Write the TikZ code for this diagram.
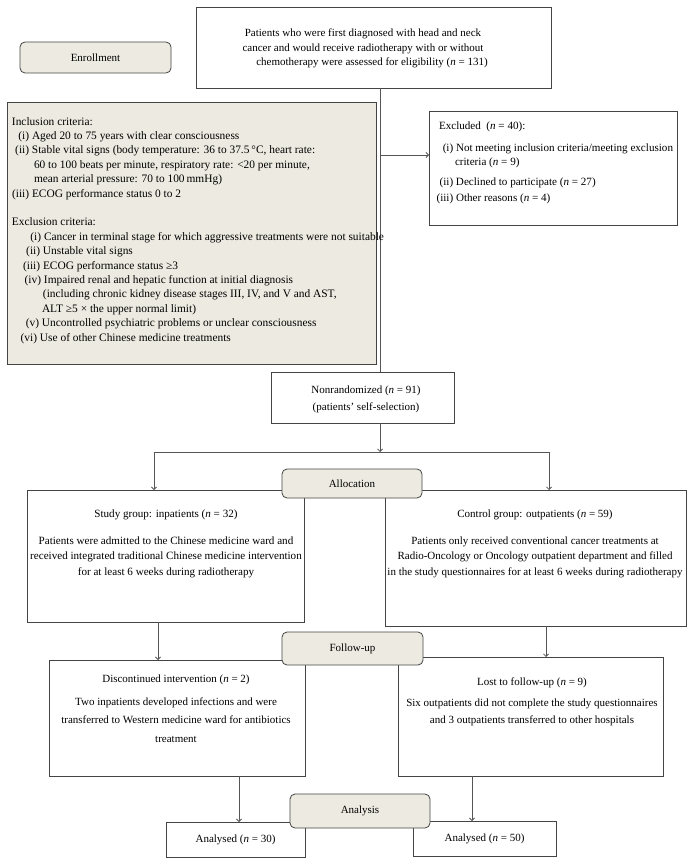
\documentclass[tikz,border=0pt]{standalone}
\usepackage{fontspec}
\setmainfont{Liberation Serif}
\usetikzlibrary{arrows.meta,calc}
\definecolor{beige}{HTML}{EDEBE1}
\definecolor{edgec}{HTML}{444444}
\definecolor{linec}{HTML}{555555}
\newcommand\lbl[2]{\hspace*{#1}\llap{#2\ }}
\newcommand\firstline{\rule{0pt}{8pt}}
\newcommand\bx[6]{\node[#1, minimum width={#4-#2}, minimum height={#5-#3}] (#6) at ({(#2+#4)/2},{(#3+#5)/2}) {};}
\tikzset{
  plainbox/.style={draw=edgec, line width=0.8pt, fill=white, inner sep=0pt, outer sep=0pt},
  critbox/.style={draw=edgec, line width=0.8pt, fill=beige, inner sep=0pt, outer sep=0pt},
  stagebox/.style={draw=edgec, line width=0.8pt, fill=beige, rounded corners=5pt, inner sep=0pt, outer sep=0pt, font=\fontsize{11}{13}\selectfont},
  conn/.style={draw=linec, line width=0.8pt},
  arr/.style={conn, -{Straight Barb[length=2.5pt,width=5pt]}},
  txt/.style={inner sep=0pt, outer sep=0pt, font=\fontsize{11}{14.4}\selectfont},
}
\begin{document}
\begin{tikzpicture}[x=1pt,y=-1pt]
\useasboundingbox (0,0) rectangle (690,864);
% main boxes
\bx{plainbox}{196}{7}{551}{88}{top}
\bx{critbox}{7}{102}{376}{364}{incl}
\bx{plainbox}{429}{111}{677}{225}{excl}
\bx{plainbox}{271}{372}{454}{423}{nonr}
\bx{plainbox}{27}{490}{304}{622}{study}
\bx{plainbox}{385}{490}{686}{626}{control}
\bx{plainbox}{49}{660}{305}{776}{disc}
\bx{plainbox}{398}{657}{663}{776}{lost}
\bx{plainbox}{166}{822}{305}{857}{anL}
\bx{plainbox}{413}{821}{556}{856}{anR}
% helper coordinates
\coordinate (spine) at (380,0);
\coordinate (exJ) at (380,155);
\coordinate (splitL) at (154,452);
\coordinate (splitR) at (549,452);
\coordinate (fL) at (158,0);
\coordinate (fR) at (546,0);
\coordinate (aL) at (239,0);
\coordinate (aR) at (472,0);
% connectors
\draw[conn] (top.south -| spine) -- (nonr.north -| spine);
\draw[arr] (exJ) -- (exJ -| excl.west);
\draw[arr] (nonr.south -| spine) -- (spine |- splitL);
\draw[conn] (splitL) -- (splitR);
\draw[arr] (splitL) -- (splitL |- study.north);
\draw[arr] (splitR) -- (splitR |- control.north);
\draw[arr] (study.south -| fL) -- (disc.north -| fL);
\draw[arr] (control.south -| fR) -- (lost.north -| fR);
\draw[arr] (disc.south -| aL) -- (anL.north -| aL);
\draw[arr] (lost.south -| aR) -- (anR.north -| aR);
% stage boxes
\node[stagebox, minimum width=151, minimum height=31] (enroll) at (95.5,57.5) {Enrollment};
\node[stagebox, minimum width=140, minimum height=29] (alloc) at (352,483.5) {Allocation};
\node[stagebox, minimum width=141, minimum height=33] (follow) at (352.5,648.5) {Follow-up};
\node[stagebox, minimum width=140, minimum height=34] (analysis) at (360,811) {Analysis};
% texts
\node[txt, align=center, anchor=north, font=\fontsize{11}{14.5}\selectfont] (topT) at (363,29)
 {\firstline Patients who were first diagnosed with head and neck\\
  cancer and would receive radiotherapy with or without\\
  \hspace*{18pt}chemotherapy were assessed for eligibility (\textit{n} = 131)};
\node[txt, align=left, anchor=north west, font=\fontsize{11.4}{14.4}\selectfont] (inclT) at (12,117)
 {\firstline Inclusion criteria:\\
  \lbl{20pt}{(i)}Aged 20 to 75 years with clear consciousness\\
  \lbl{20pt}{(ii)}Stable vital signs (body temperature: 36 to 37.5\,°C, heart rate:\\
  \hspace*{22pt}60 to 100 beats per minute, respiratory rate: <20 per minute,\\
  \hspace*{22pt}mean arterial pressure: 70 to 100\,mmHg)\\
  \lbl{20pt}{(iii)}ECOG performance status 0 to 2\\[14.4pt]
  Exclusion criteria:\\
  \lbl{32pt}{(i)}Cancer in terminal stage for which aggressive treatments were not suitable\\
  \lbl{31pt}{(ii)}Unstable vital signs\\
  \lbl{31pt}{(iii)}ECOG performance status ≥3\\
  \lbl{32pt}{(iv)}Impaired renal and hepatic function at initial diagnosis\\
  \hspace*{31pt}(including chronic kidney disease stages III, IV, and V and AST,\\
  \hspace*{30pt}ALT ≥5 × the upper normal limit)\\
  \lbl{30pt}{(v)}Uncontrolled psychiatric problems or unclear consciousness\\
  \lbl{28pt}{(vi)}Use of other Chinese medicine treatments};
\node[txt, align=left, anchor=north west, font=\fontsize{11.1}{14}\selectfont] (exclT) at (439,121)
 {\firstline Excluded\ \ (\textit{n} = 40):\\[8pt]
  \lbl{17pt}{(i)}Not meeting inclusion criteria/meeting exclusion\\
  \hspace*{16pt}criteria (\textit{n} = 9)\\[6pt]
  \lbl{17pt}{(ii)}Declined to participate (\textit{n} = 27)\\[2pt]
  \lbl{17pt}{(iii)}Other reasons (\textit{n} = 4)};
\node[txt, align=center, anchor=north, font=\fontsize{11}{17}\selectfont] (nonrT) at (366,385)
 {\firstline Nonrandomized (\textit{n} = 91)\\ (patients’ self-selection)};
\node[txt, align=center, anchor=north, font=\fontsize{11.1}{15.5}\selectfont] (studyT) at (166,509)
 {\firstline Study group: inpatients (\textit{n} = 32)\\[11.5pt]
  Patients were admitted to the Chinese medicine ward and\\
  received integrated traditional Chinese medicine intervention\\
  for at least 6 weeks during radiotherapy};
\node[txt, align=center, anchor=north, font=\fontsize{11}{15.5}\selectfont] (controlT) at (535,509)
 {\firstline Control group: outpatients (\textit{n} = 59)\\[11.5pt]
  Patients only received conventional cancer treatments at\\
  Radio-Oncology or Oncology outpatient department and filled\\
  in the study questionnaires for at least 6 weeks during radiotherapy};
\node[txt, align=center, anchor=north, font=\fontsize{11}{18.5}\selectfont] (discT) at (176,674)
 {\firstline Discontinued intervention (\textit{n} = 2)\\[4.5pt]
  Two inpatients developed infections and were\\
  transferred to Western medicine ward for antibiotics\\
  treatment};
\node[txt, align=center, anchor=north, font=\fontsize{11}{17}\selectfont] (lostT) at (532,677)
 {\firstline Lost to follow-up (\textit{n} = 9)\\[4pt]
  Six outpatients did not complete the study questionnaires\\
  and 3 outpatients transferred to other hospitals};
\node[txt] (anLT) at (anL.center) {Analysed (\textit{n} = 30)};
\node[txt] (anRT) at (anR.center) {Analysed (\textit{n} = 50)};
\end{tikzpicture}
\end{document}
